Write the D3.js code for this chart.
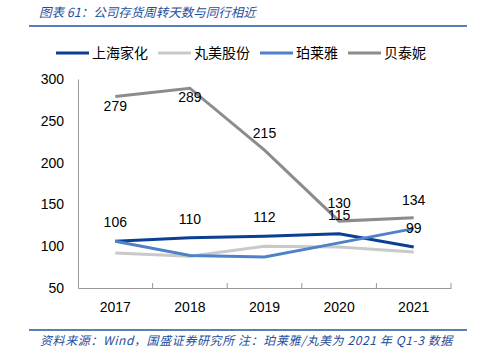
<!DOCTYPE html>
<html>
<head>
<meta charset="utf-8">
<script src="https://cdn.jsdelivr.net/npm/d3@7"></script>
<style>
  body { margin: 0; background: #fff; }
  svg { display: block; }
</style>
</head>
<body>
<svg id="chart"></svg>
<script>
// Chart data
const years = ["2017", "2018", "2019", "2020", "2021"];
const shjh = [106, 110, 112, 115, 99];     // 上海家化
const wmgf = [92, 88, 100, 99, 93];        // 丸美股份
const ply = [106, 89, 87, 104, 121];       // 珀莱雅
const btn = [279, 289, 215, 130, 134];     // 贝泰妮
const yTicks = [50, 100, 150, 200, 250, 300];

const seriesNames = ["上海家化", "丸美股份", "珀莱雅", "贝泰妮"];
const seriesValues = [shjh, wmgf, ply, btn];
const seriesColors = ["#0b3f94", "#c9c9c9", "#4d82c8", "#8c8c8c"];

const width = 483, height = 353;
const margin = { left: 78, right: 32, top: 79, bottom: 65 };

const svg = d3.select("#chart").attr("width", width).attr("height", height);
const font = "'Liberation Sans', Arial, sans-serif";
const cjk = "'Noto Sans CJK SC', sans-serif";

// Title + rules
svg.append("text")
    .attr("x", 39).attr("y", 17)
    .attr("font-family", cjk).attr("font-size", 12.5)
    .attr("font-style", "italic").attr("fill", "#1f4e9c")
    .text("图表 61：公司存货周转天数与同行相近");
svg.append("line").attr("x1", 29).attr("x2", 467).attr("y1", 26).attr("y2", 26)
    .attr("stroke", "#1f55a8").attr("stroke-width", 1.5);
svg.append("line").attr("x1", 29).attr("x2", 467).attr("y1", 330).attr("y2", 330)
    .attr("stroke", "#1f55a8").attr("stroke-width", 1.5);
svg.append("text")
    .attr("x", 40).attr("y", 345)
    .attr("font-family", cjk).attr("font-size", 12)
    .attr("letter-spacing", 0.6)
    .attr("font-style", "italic").attr("fill", "#1f4e9c")
    .text("资料来源：Wind，国盛证券研究所  注：珀莱雅/丸美为 2021 年 Q1-3 数据");

// Scales
const x = d3.scaleBand().domain(years).range([margin.left, width - margin.right]);
const y = d3.scaleLinear().domain([50, 300]).range([height - margin.bottom, margin.top]);

// Axes
const yAxis = svg.append("g").attr("transform", `translate(${margin.left},0)`)
    .call(d3.axisLeft(y).tickValues(yTicks).tickSize(0).tickPadding(14));
yAxis.select(".domain").attr("stroke", "#999");
yAxis.selectAll("text").attr("font-family", font).attr("font-size", 14).attr("fill", "#000");

const xAxis = svg.append("g").attr("transform", `translate(0,${y(50)})`)
    .call(d3.axisBottom(x).tickSize(0).tickPadding(11).tickSizeOuter(0));
xAxis.select(".domain").attr("stroke", "#999");
xAxis.selectAll("text").attr("font-family", font).attr("font-size", 14).attr("fill", "#000")
    .attr("dy", "0.9em");
// category separators
svg.append("g").selectAll("line")
    .data(years)
    .join("line")
    .attr("x1", (d, i) => margin.left + x.bandwidth() * (i + 1))
    .attr("x2", (d, i) => margin.left + x.bandwidth() * (i + 1))
    .attr("y1", y(50)).attr("y2", y(50) - 5)
    .attr("stroke", "#999");

// Lines
const line = d3.line()
    .x((d, i) => x(years[i]) + x.bandwidth() / 2)
    .y(d => y(d));

seriesValues.forEach((vals, k) => {
    svg.append("path")
        .datum(vals)
        .attr("fill", "none")
        .attr("stroke", seriesColors[k])
        .attr("stroke-width", 3)
        .attr("d", line);
});

// Data labels
const lbl = (vals, offs) => {
    svg.append("g").selectAll("text")
        .data(vals)
        .join("text")
        .attr("x", (d, i) => x(years[i]) + x.bandwidth() / 2)
        .attr("y", (d, i) => y(d) + offs[i])
        .attr("text-anchor", "middle")
        .attr("font-family", font).attr("font-size", 14).attr("fill", "#000")
        .text(d => d);
};
lbl(shjh, [-14, -14, -14, -14, -14]);
lbl(btn, [14, 14, -12, -13, -13]);

// Legend
const legendX = [56, 158, 260, 348];
const lg = svg.append("g");
seriesNames.forEach((name, k) => {
    lg.append("line")
        .attr("x1", legendX[k]).attr("x2", legendX[k] + 33)
        .attr("y1", 53).attr("y2", 53)
        .attr("stroke", seriesColors[k]).attr("stroke-width", 3);
    lg.append("text")
        .attr("x", legendX[k] + 36).attr("y", 58)
        .attr("font-family", cjk).attr("font-size", 14).attr("fill", "#000")
        .text(name);
});
</script>
</body>
</html>
